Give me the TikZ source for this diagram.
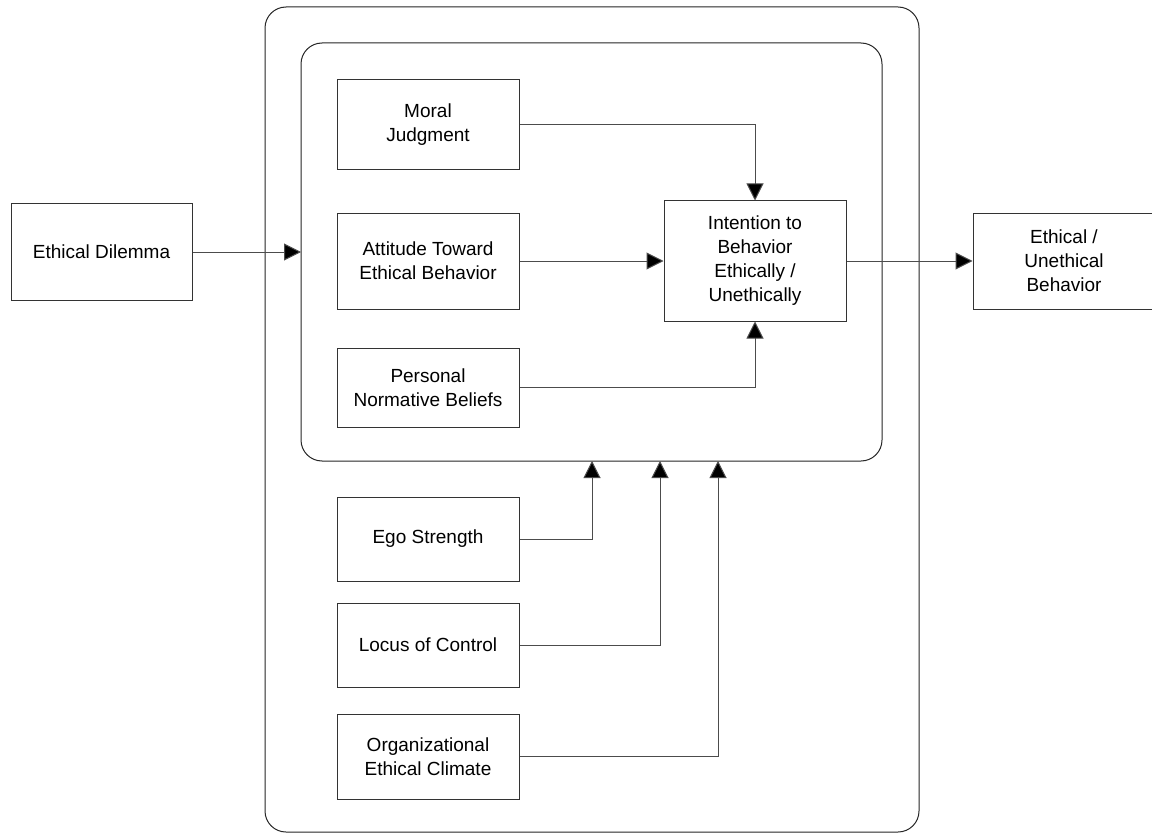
\documentclass[tikz,border=0pt]{standalone}
\usepackage{fontspec}
\setmainfont{Liberation Sans}
\usetikzlibrary{arrows.meta}
\begin{document}
\begin{tikzpicture}[x=1pt,y=-1pt,
  every node/.style={font=\fontsize{19}{24}\selectfont},
  box/.style={draw=black!80, line width=1pt, rectangle, inner sep=0pt,
    minimum width=182pt, align=center, text=black},
  frame/.style={draw=black!85, line width=1pt, rounded corners=21pt},
  link/.style={draw=black!70, line width=1pt, -{Triangle[length=17pt,width=17pt,fill=black]}}]
  \useasboundingbox[fill=white] (0,0) rectangle (1152,840);

  % containers
  \draw[frame] (265,7) rectangle (919,832);
  \draw[frame] (301,43) rectangle (882,461);
  \coordinate (innerW) at (301,252);
  \coordinate (innerS) at (600,461);

  % boxes
  \node[box, minimum width=181pt, minimum height=97pt] (ed) at (101.5,252) {Ethical Dilemma};
  \node[box, minimum height=90pt] (mj) at (428,125) {Moral\\Judgment};
  \node[box, minimum height=96pt] (at) at (428,261) {Attitude Toward\\Ethical Behavior};
  \node[box, minimum height=79pt] (pn) at (428,387.5) {Personal\\Normative Beliefs};
  \node[box, minimum height=120pt] (in) at (755,261) {Intention to\\Behavior\\Ethically /\\Unethically};
  \node[box, minimum height=96pt] (eu) at (1064,261) {Ethical /\\Unethical\\Behavior};
  \node[box, minimum height=84pt] (eg) at (428,539) {Ego Strength};
  \node[box, minimum height=84pt] (lc) at (428,645) {Locus of Control};
  \node[box, minimum height=85pt] (oc) at (428,756.5) {Organizational\\Ethical Climate};

  % connectors
  \draw[link] (ed.east) -- (ed.east -| innerW);
  \draw[link] (mj.east) -| (in.north);
  \draw[link] (at.east) -- (in.west);
  \draw[link] (pn.east) -| (in.south);
  \draw[link] (in.east) -- (eu.west);
  \draw[link] (eg.east) -| (innerS -| 592,0);
  \draw[link] (lc.east) -| (innerS -| 660,0);
  \draw[link] (oc.east) -| (innerS -| 718,0);
\end{tikzpicture}
\end{document}
